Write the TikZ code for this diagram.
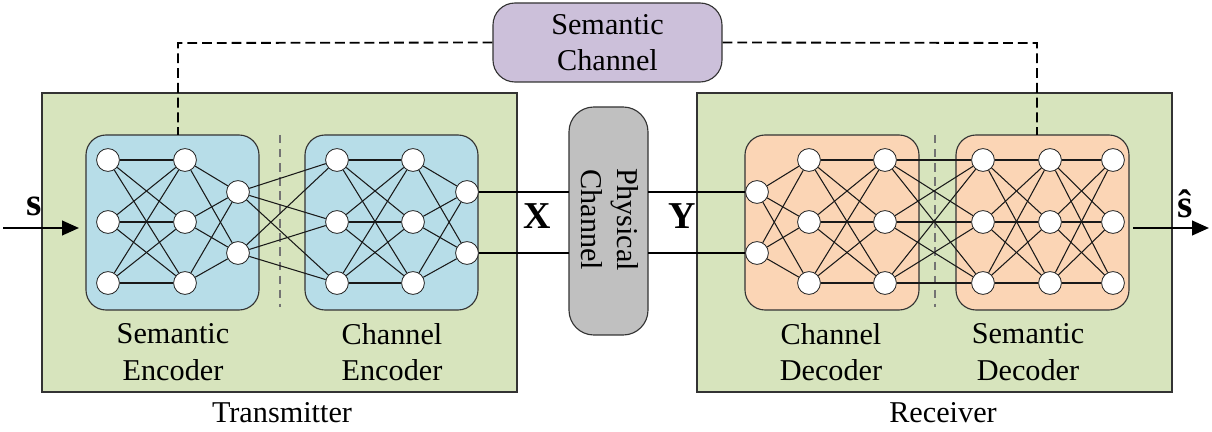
\documentclass[tikz,border=0pt]{standalone}
\usepackage{fontspec}
\setmainfont{Liberation Serif}
\newfontfamily\tnr{Liberation Serif}
\usetikzlibrary{arrows.meta}
\definecolor{tgreen}{RGB}{215,228,189}
\definecolor{tblue}{RGB}{183,221,232}
\definecolor{tpeach}{RGB}{251,213,181}
\definecolor{tlav}{RGB}{204,192,218}
\definecolor{tgray}{RGB}{192,192,192}
\begin{document}
\begin{tikzpicture}[x=0.025cm,y=-0.025cm,
  every node/.style={font=\tnr\fontsize{21.5}{26}\selectfont},
  neuron/.style={circle, draw=black!85, fill=white, minimum size=0.57cm, inner sep=0pt, line width=0.6pt},
  link/.style={line width=0.75pt, black!90},
  frame/.style={draw=black!80, line width=0.8pt, fill=tgreen},
  netbox/.style={draw=black!80, line width=0.8pt, rounded corners=0.5cm},
  sep/.style={draw=black!55, line width=0.9pt, dash pattern=on 6pt off 4pt},
  semline/.style={draw=black, line width=1.3pt, dash pattern=on 7pt off 3.5pt},
  sig/.style={line width=1.3pt},
  io/.style={line width=1.7pt, -{Triangle[length=0.42cm,width=0.36cm]}},
  lbl/.style={align=center},
  big/.style={font=\tnr\fontsize{27}{30}\selectfont\bfseries}
]
\useasboundingbox (0,0) rectangle (1212,432);

% frames
\path[frame] (42,93) rectangle (517,392);
\path[frame] (697,93) rectangle (1172,392);
\node at (282,413) {Transmitter};
\node at (943,413) {Receiver};

% net boxes
\path[netbox, fill=tblue] (86,135) rectangle (259,310);
\path[netbox, fill=tblue] (305,135) rectangle (478,310);
\path[netbox, fill=tpeach] (745,135) rectangle (919,310);
\path[netbox, fill=tpeach] (956,135) rectangle (1129,310);

% separators
\draw[sep] (280,135) -- (280,307);
\draw[sep] (935,135) -- (935,307);

% labels
\node[lbl] at (173,352) {Semantic\\Encoder};
\node[lbl] at (392,352) {Channel\\Encoder};
\node[lbl] at (831,352) {Channel\\Decoder};
\node[lbl] at (1028,352) {Semantic\\Decoder};

% neurons
\foreach \n/\x in {a/108, b/185, p/337, q/413, c2/809, c3/885, d1/983, d2/1050, d3/1113}{
  \node[neuron] (\n1) at (\x,160) {};
  \node[neuron] (\n2) at (\x,222) {};
  \node[neuron] (\n3) at (\x,283) {};
}
\foreach \n/\x in {c/238, r/467, c1/757}{
  \node[neuron] (\n1) at (\x,192) {};
  \node[neuron] (\n2) at (\x,253) {};
}

% links 3x3
\foreach \u/\v in {a/b, p/q, c2/c3, c3/d1, d1/d2, d2/d3}{
  \foreach \i in {1,2,3}{
    \foreach \j in {1,2,3}{
      \draw[link] (\u\i) -- (\v\j);
    }
  }
}
% links 3x2 and 2x3
\foreach \u/\v in {b/c, q/r}{
  \foreach \i in {1,2,3}{
    \foreach \j in {1,2}{
      \draw[link] (\u\i) -- (\v\j);
    }
  }
}
\foreach \u/\v in {c/p, c1/c2}{
  \foreach \i in {1,2}{
    \foreach \j in {1,2,3}{
      \draw[link] (\u\i) -- (\v\j);
    }
  }
}

% physical channel
\node[draw=black!80, line width=0.8pt, fill=tgray, rounded corners=0.62cm,
      minimum width=79*0.025cm, minimum height=228*0.025cm, inner sep=0pt] (phys) at (608.5,221) {};
\node[rotate=-90, lbl] (phystxt) at (610,220) {Physical\\Channel};
\coordinate (xa) at (569,192);
\coordinate (xb) at (569,253);
\coordinate (ya) at (648,192);
\coordinate (yb) at (648,253);
\draw[sig] (r1) -- (xa);
\draw[sig] (r2) -- (xb);
\draw[sig] (ya) -- (c11);
\draw[sig] (yb) -- (c12);
\node[big] (X) at (537,216) {X};
\node[big] (Y) at (682,216) {Y};

% semantic channel
\node[draw=black!80, line width=0.8pt, fill=tlav, rounded corners=0.55cm,
      minimum width=229*0.025cm, minimum height=79*0.025cm, lbl] (sem) at (607.5,42.5) {Semantic\\Channel};
\coordinate (sl) at (178,43);
\coordinate (sr) at (1037,43);
\coordinate (setop) at (178,135);
\coordinate (sdtop) at (1037,135);
\draw[semline] (sem.west) -- (sl) -- (setop);
\draw[semline] (sem.east) -- (sr) -- (sdtop);

% input / output
\coordinate (in0) at (3,228);
\coordinate (in1) at (79,228);
\coordinate (out0) at (1133,228);
\coordinate (out1) at (1209,228);
\draw[io] (in0) -- (in1);
\draw[io] (out0) -- (out1);
\node[font=\tnr\fontsize{28}{30}\selectfont\bfseries] (s) at (34,206) {s};
\node[font=\tnr\fontsize{28}{30}\selectfont\bfseries] (shat) at (1185,204) {ŝ};
\end{tikzpicture}
\end{document}
